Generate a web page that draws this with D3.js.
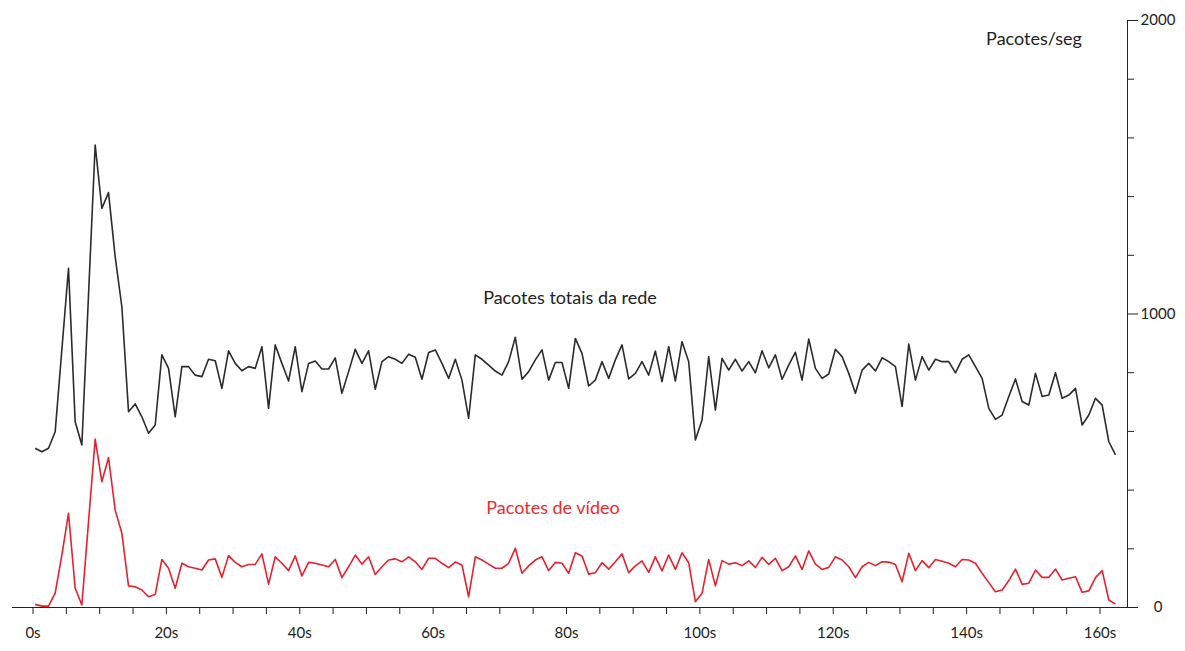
<!DOCTYPE html>
<html>
<head>
<meta charset="utf-8">
<script src="https://cdn.jsdelivr.net/npm/d3@7"></script>
<style>
  body { margin: 0; background: #fff; }
  svg { display: block; }
  text { font-family: Lato, 'Open Sans', sans-serif; }
</style>
</head>
<body>
<svg width="1185" height="651"></svg>
<script>
// packets per second, one sample per second
const total = [
  541, 529, 541, 597, 876, 1154, 631, 552, 1063, 1574, 1358, 1412, 1193, 1023, 665, 692, 648, 592, 620, 859,
  813, 648, 819, 819, 790, 785, 844, 839, 745, 873, 830, 805, 819, 813, 887, 677, 893, 830, 770, 887,
  734, 830, 838, 811, 811, 849, 728, 802, 878, 830, 873, 742, 836, 853, 844, 830, 861, 851, 776, 867,
  876, 830, 779, 844, 773, 643, 859, 844, 824, 804, 790, 836, 919, 776, 802, 842, 876, 773, 833, 833,
  745, 915, 864, 753, 773, 836, 779, 842, 893, 777, 796, 836, 790, 872, 768, 887, 770, 904, 836, 569,
  637, 853, 671, 847, 807, 844, 804, 836, 798, 873, 815, 859, 776, 824, 868, 773, 913, 813, 779, 794,
  878, 853, 796, 728, 807, 830, 804, 849, 836, 819, 683, 896, 773, 853, 807, 844, 836, 836, 798, 844,
  859, 819, 779, 677, 639, 654, 717, 777, 700, 688, 796, 717, 722, 798, 711, 722, 745, 620, 654, 711,
  688, 563, 518
];
const video = [
  9, 3, 3, 47, 177, 319, 64, 7, 290, 572, 427, 509, 330, 251, 72, 69, 58, 35, 43, 162,
  132, 64, 149, 137, 132, 126, 160, 164, 101, 175, 152, 137, 145, 145, 181, 78, 171, 149, 124, 174,
  106, 152, 149, 143, 137, 162, 100, 137, 177, 146, 171, 111, 137, 160, 164, 154, 171, 154, 128, 166,
  166, 149, 134, 153, 143, 35, 171, 160, 146, 132, 132, 149, 200, 115, 140, 160, 171, 124, 152, 149,
  115, 185, 174, 112, 117, 151, 129, 154, 181, 117, 140, 157, 118, 171, 123, 177, 128, 185, 151, 18,
  47, 162, 72, 158, 146, 151, 141, 157, 135, 169, 145, 166, 124, 137, 174, 128, 191, 146, 128, 135,
  171, 160, 137, 100, 137, 152, 141, 154, 153, 145, 86, 183, 124, 158, 134, 162, 156, 149, 137, 162,
  160, 149, 115, 83, 52, 58, 90, 129, 77, 81, 126, 101, 101, 129, 92, 98, 103, 50, 55, 100,
  124, 24, 10
];
const startTime = 0.4;                // first sample time (s)
const xTicks = d3.range(0, 165, 5);   // tick every 5 s
const xLabels = d3.range(0, 161, 20); // label every 20 s
const yTicks = d3.range(0, 2001, 200);
const yLabels = [0, 1000, 2000];

const svg = d3.select('svg');

const x = d3.scaleLinear().domain([0, 160]).range([32.5, 1099.5]);
const y = d3.scaleLinear().domain([0, 2000]).range([607, 20]);
const axisX = 1127;

// X axis
const gx = svg.append('g')
  .attr('transform', 'translate(0,607)')
  .call(d3.axisBottom(x)
    .tickValues(xTicks)
    .tickSize(7)
    .tickFormat(d => xLabels.includes(d) ? d + 's' : ''));
gx.select('.domain').remove();
gx.selectAll('.tick line').attr('stroke', '#222');
gx.selectAll('.tick text')
  .attr('y', 20)
  .attr('fill', '#222')
  .style('font-size', '15px');
svg.append('line')
  .attr('x1', 12).attr('x2', axisX)
  .attr('y1', 607.5).attr('y2', 607.5)
  .attr('stroke', '#222');

// Y axis on the right
const gy = svg.append('g')
  .attr('transform', `translate(${axisX},0)`)
  .call(d3.axisRight(y)
    .tickValues(yTicks)
    .tickSize(11)
    .tickFormat(d => yLabels.includes(d) ? d : ''));
gy.select('.domain').remove();
gy.selectAll('.tick line')
  .attr('stroke', '#222')
  .attr('x2', d => yLabels.includes(d) ? 11 : 7);
gy.selectAll('.tick text')
  .attr('x', 31)
  .attr('text-anchor', 'middle')
  .attr('fill', '#222')
  .style('font-size', '15px');
svg.append('line')
  .attr('x1', axisX + 0.5).attr('x2', axisX + 0.5)
  .attr('y1', y(2000)).attr('y2', 607.5)
  .attr('stroke', '#222');

// lines
const line = d3.line()
  .x((d, i) => x(startTime + i))
  .y(d => y(d));

svg.append('path')
  .datum(total)
  .attr('fill', 'none')
  .attr('stroke', '#2b2b2b')
  .attr('stroke-width', 1.6)
  .attr('stroke-linejoin', 'round')
  .attr('d', line);

svg.append('path')
  .datum(video)
  .attr('fill', 'none')
  .attr('stroke', '#e8202e')
  .attr('stroke-width', 1.6)
  .attr('stroke-linejoin', 'round')
  .attr('d', line);

// labels
svg.append('text')
  .attr('x', 570).attr('y', 304)
  .attr('text-anchor', 'middle')
  .attr('fill', '#222')
  .style('font-size', '18px')
  .text('Pacotes totais da rede');

svg.append('text')
  .attr('x', 553).attr('y', 514)
  .attr('text-anchor', 'middle')
  .attr('fill', '#ee2a2a')
  .style('font-size', '18px')
  .text('Pacotes de vídeo');

svg.append('text')
  .attr('x', 1034).attr('y', 45)
  .attr('text-anchor', 'middle')
  .attr('fill', '#222')
  .style('font-size', '18px')
  .text('Pacotes/seg');
</script>
</body>
</html>
